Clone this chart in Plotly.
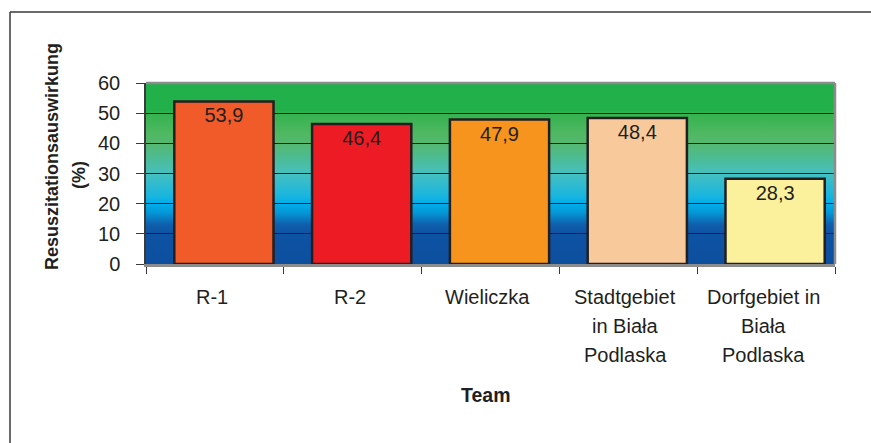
import base64
import plotly.graph_objects as go

# ---- data -------------------------------------------------------------
teams = [
    "R-1",
    "R-2",
    "Wieliczka",
    "Stadtgebiet in Biała Podlaska",
    "Dorfgebiet in Biała Podlaska",
]
team_label_lines = [
    ["R-1"],
    ["R-2"],
    ["Wieliczka"],
    ["Stadtgebiet", "in Biała", "Podlaska"],
    ["Dorfgebiet in", "Biała", "Podlaska"],
]
effect_pct = [53.9, 46.4, 47.9, 48.4, 28.3]
bar_colors = ["#f15a29", "#ed1c24", "#f7941d", "#f8ca9b", "#fbf09b"]

y_ticks = [0, 10, 20, 30, 40, 50, 60]
y_title = "Resuszitationsauswirkung"
y_unit = "(%)"
x_title = "Team"

# ---- geometry helpers ---------------------------------------------------
W, H = 871, 443
L, R, T, B = 146, 835, 83, 264          # plot area in pixels
PW, PH = R - L, B - T
CAT_W = PW / len(teams)


def px_x(p):
    return (p - L) / PW


def px_y(p):
    return (B - p) / PH


FONT = "Arial, Liberation Sans, Helvetica, sans-serif"
TXT = "#231f20"

# vertical background gradient (value on y axis, colour)
grad_stops = [
    (0, "#0d4f9f"),
    (10, "#0e52a3"),
    (13, "#0f5eac"),
    (17, "#0596d6"),
    (20, "#00aeea"),
    (23, "#1cb6de"),
    (30, "#45c0bf"),
    (35, "#4cbc95"),
    (40, "#56b870"),
    (43, "#50b863"),
    (50, "#34b24e"),
    (51, "#22b04b"),
    (60, "#22b04b"),
]
stops_svg = "".join(
    f"<stop offset='{v / 60:.4f}' stop-color='{c}'/>" for v, c in grad_stops
)
svg = (
    "<svg xmlns='http://www.w3.org/2000/svg' width='100' height='600' "
    "viewBox='0 0 100 600' preserveAspectRatio='none'>"
    "<defs><linearGradient id='g' x1='0' y1='1' x2='0' y2='0'>"
    f"{stops_svg}</linearGradient></defs>"
    "<rect x='0' y='0' width='100' height='600' fill='url(#g)'/></svg>"
)
grad_src = "data:image/svg+xml;base64," + base64.b64encode(svg.encode()).decode()

shapes = [
    # right and top edge of the plot frame (grey)
    dict(type="line", xref="paper", yref="paper", x0=1, x1=1, y0=0, y1=1,
         line=dict(color="#8c8c8c", width=2.5)),
    dict(type="line", xref="paper", yref="paper", x0=0, x1=1, y0=1, y1=1,
         line=dict(color="#8c8c8c", width=2.5)),
    # outer chart border (left and top)
    dict(type="line", xref="paper", yref="paper",
         x0=px_x(10), x1=px_x(10), y0=px_y(12), y1=px_y(460),
         line=dict(color="#3a3a3a", width=1.5)),
    dict(type="line", xref="paper", yref="paper",
         x0=px_x(10), x1=px_x(890), y0=px_y(12), y1=px_y(12),
         line=dict(color="#3a3a3a", width=1.5)),
]

BAR_W = 0.72
BAR_SHIFT = 9 / CAT_W   # bars sit slightly right of the category centre
LABEL_SHIFT = -3 / CAT_W

fig = go.Figure()
fig.add_trace(go.Bar(
    x=teams, y=effect_pct,
    width=BAR_W, offset=-BAR_W / 2 + BAR_SHIFT,
    marker=dict(color=bar_colors, line=dict(color="#231f20", width=2.5)),
    texttemplate="%{y:.1f}", textposition="inside", insidetextanchor="end",
    textangle=0, constraintext="none",
    textfont=dict(family=FONT, size=20, color=TXT),
    hoverinfo="skip",
))

annotations = []
# category labels, one annotation per line
for idx, lines in enumerate(team_label_lines):
    for k, line in enumerate(lines):
        annotations.append(dict(
            x=idx + LABEL_SHIFT, xref="x", y=px_y(297 + 29 * k), yref="paper",
            text=line, showarrow=False, xanchor="center", yanchor="middle",
            font=dict(family=FONT, size=20, color=TXT),
        ))

annotations.append(dict(
    x=px_x(486), xref="paper", y=px_y(395), yref="paper",
    text=f"<b>{x_title}</b>", showarrow=False,
    xanchor="center", yanchor="middle",
    font=dict(family=FONT, size=19.5, color=TXT),
))
annotations.append(dict(
    x=px_x(52), xref="paper", y=px_y(157), yref="paper",
    text=f"<b>{y_title}</b>", textangle=-90, showarrow=False,
    xanchor="center", yanchor="middle",
    font=dict(family=FONT, size=18, color=TXT),
))
annotations.append(dict(
    x=px_x(79), xref="paper", y=px_y(175), yref="paper",
    text=f"<b>{y_unit}</b>", textangle=-90, showarrow=False,
    xanchor="center", yanchor="middle",
    font=dict(family=FONT, size=18, color=TXT),
))

fig.update_layout(
    width=W, height=H,
    margin=dict(l=L, r=W - R, t=T, b=H - B, pad=0),
    paper_bgcolor="white", plot_bgcolor="white",
    separators=",.",
    showlegend=False,
    shapes=shapes,
    annotations=annotations,
    images=[dict(
        source=grad_src, xref="x domain", yref="y",
        x=0, y=60, sizex=1, sizey=60, sizing="stretch",
        xanchor="left", yanchor="top", layer="below",
    )],
    font=dict(family=FONT, color=TXT),
)
fig.update_xaxes(
    type="category", showticklabels=False,
    ticks="outside", tickson="boundaries", ticklen=7, tickwidth=1.2,
    tickcolor="#3a3a3a",
    showline=True, linecolor="#8c8c8c", linewidth=2.5,
    showgrid=False, zeroline=False,
)
fig.update_yaxes(
    range=[0, 60], tickvals=y_ticks,
    ticks="outside", ticklen=8, tickwidth=1.2, tickcolor="#3a3a3a",
    ticklabelstandoff=12,
    tickfont=dict(family=FONT, size=20, color=TXT),
    showline=True, linecolor="#3a3a3a", linewidth=1.5,
    showgrid=True, gridcolor="#1e1e1e", gridwidth=1.3,
    zeroline=False,
)

fig.write_html("out.html")
